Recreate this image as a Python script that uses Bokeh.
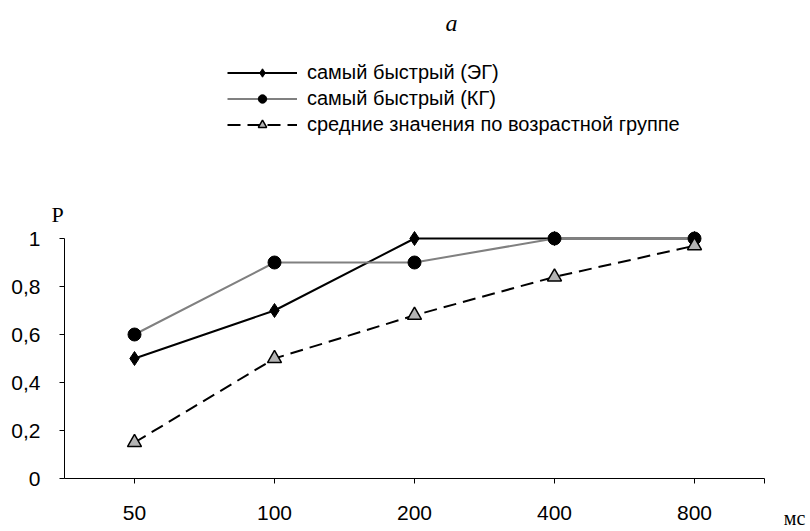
import numpy as np
from bokeh.plotting import figure
from bokeh.models import Range1d, FixedTicker, Label, Legend, LegendItem
from bokeh.embed import file_html
from bokeh.resources import INLINE

categories = ["50", "100", "200", "400", "800"]
fastest_eg = [0.5, 0.7, 1.0, 1.0, 1.0]
fastest_kg = [0.6, 0.9, 0.9, 1.0, 1.0]
age_group_mean = [0.15, 0.5, 0.68, 0.84, 0.97]
y_ticks = [0, 0.2, 0.4, 0.6, 0.8, 1.0]
y_tick_labels = ["0", "0,2", "0,4", "0,6", "0,8", "1"]

xs = [i + 0.5 for i in range(len(categories))]

W, H = 810, 531
X0, Y0 = 64, 478          # pixel position of data origin
UX, UY = 140.0, 240.0     # pixels per data unit

def px(x):
    return (x - X0) / UX

def py(y):
    return (Y0 - y) / UY

p = figure(width=W, height=H, output_backend="svg", toolbar_location=None,
           x_range=Range1d(px(0), px(W)), y_range=Range1d(py(H), py(0)),
           min_border_left=0, min_border_right=0, min_border_top=0,
           min_border_bottom=0)
p.outline_line_color = None
p.grid.visible = False
p.background_fill_color = "white"
p.border_fill_color = "white"

# axes, fixed at the data origin
p.xaxis.fixed_location = 0
p.yaxis.fixed_location = 0
xt = xs + [5]
p.xaxis.ticker = FixedTicker(ticks=xt)
ov = {x: c for x, c in zip(xs, categories)}
ov[5] = ""
p.xaxis.major_label_overrides = ov
p.xaxis.bounds = (0, 5)
p.yaxis.ticker = FixedTicker(ticks=y_ticks)
p.yaxis.major_label_overrides = {t: l for t, l in zip(y_ticks, y_tick_labels)}
p.yaxis.bounds = (0, 1)
for ax in (p.xaxis, p.yaxis):
    ax.axis_line_color = "black"
    ax.axis_line_width = 1
    ax.major_tick_line_color = "black"
    ax.major_tick_out = 5
    ax.major_tick_in = 0
    ax.minor_tick_line_color = None
    ax.major_label_text_font = "Liberation Sans"
    ax.major_label_text_font_size = "21px"
    ax.major_label_text_color = "black"
p.xaxis.major_label_standoff = 22
p.yaxis.major_label_standoff = 19

# series
l1 = p.line(xs, fastest_eg, line_color="black", line_width=2)
m1 = p.scatter(xs, fastest_eg, marker="diamond", size=14,
               fill_color="black", line_color="black")
l2 = p.line(xs, fastest_kg, line_color="#808080", line_width=2)
m2 = p.scatter(xs, fastest_kg, marker="circle", size=13,
               fill_color="black", line_color="black")
l3 = p.line(xs, age_group_mean, line_color="black", line_width=2, line_dash="13 7")
m3 = p.scatter(xs, age_group_mean, marker="triangle", size=14,
               fill_color="#b4b4b4", line_color="black", line_width=1.5)

legend = Legend(items=[
    LegendItem(label="самый быстрый (ЭГ)", renderers=[l1, m1]),
    LegendItem(label="самый быстрый (КГ)", renderers=[l2, m2]),
    LegendItem(label="средние значения по возрастной группе", renderers=[l3, m3]),
], location=(227, 395), glyph_width=70, glyph_height=21, label_height=21,
    spacing=3, label_standoff=10, padding=0, margin=0,
    border_line_color=None, background_fill_alpha=0,
    label_text_font="Liberation Sans", label_text_font_size="20px",
    label_text_color="black")
p.add_layout(legend)

p.add_layout(Label(x=px(451), y=py(22), text="a", text_font="Liberation Serif",
                   text_font_style="italic", text_font_size="24px",
                   text_align="center", text_baseline="middle", text_color="black"))
p.add_layout(Label(x=px(57), y=py(214), text="P", text_font="Liberation Serif",
                   text_font_size="22px", text_align="center",
                   text_baseline="middle", text_color="black"))
p.add_layout(Label(x=px(794), y=py(517), text="мс", text_font="Liberation Serif",
                   text_font_size="20px", text_align="center",
                   text_baseline="middle", text_color="black"))

open("out.html", "w").write(file_html(p, INLINE))
